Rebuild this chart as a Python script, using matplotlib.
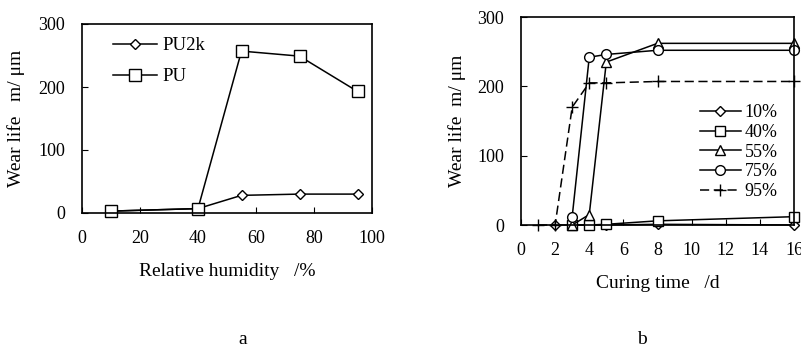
import numpy as np
import matplotlib
matplotlib.use("Agg")
import matplotlib.pyplot as plt

plt.rcParams["font.family"] = ["Liberation Serif", "DejaVu Serif"]
plt.rcParams["font.size"] = 13

# --- panel a: wear life vs relative humidity ---
rh = [10, 40, 55, 75, 95]
pu2k = [3, 7, 28, 30, 30]
pu = [3, 7, 257, 249, 193]

# --- panel b: wear life vs curing time ---
days_10 = [2, 3, 4, 5, 8, 16]
rh10 = [0, 0, 0, 0, 1, 0]
days_40 = [3, 4, 5, 8, 16]
rh40 = [0, 0, 1, 6, 12]
days_55 = [3, 4, 5, 8, 16]
rh55 = [0, 15, 235, 262, 262]
days_75 = [3, 4, 5, 8, 16]
rh75 = [12, 242, 246, 252, 252]
days_95 = [1, 2, 3, 4, 5, 8, 16]
rh95 = [0, 0, 170, 205, 205, 207, 207]

fig = plt.figure(figsize=(8.01, 3.54), dpi=100)
axa = fig.add_axes([82/801, 1-213/354, 290/801, 189/354])
axb = fig.add_axes([521/801, 1-225/354, 273/801, 208/354])

mk = dict(color="k", mfc="white", mec="k", lw=1.1, clip_on=False)
axa.plot(rh, pu2k, marker="D", ms=5.5, label="PU2k", **mk)
axa.plot(rh, pu, marker="s", ms=8, label="PU", **mk)
axa.set_xlim(0, 100); axa.set_ylim(0, 300)
axa.set_xticks(range(0, 101, 20)); axa.set_yticks([0, 100, 200, 300])
axa.set_xlabel("Relative humidity   /%", fontsize=14, labelpad=12)
axa.set_ylabel("Wear life   m/ μm", fontsize=14, labelpad=10)
axa.legend(loc="upper left", frameon=False, fontsize=13.5, handlelength=2.3,
           handletextpad=0.3, labelspacing=0.75, bbox_to_anchor=(0.05, 1.02))

axb.plot(days_10, rh10, marker="D", ms=5.5, label="10%", **mk)
axb.plot(days_40, rh40, marker="s", ms=7, label="40%", **mk)
axb.plot(days_55, rh55, marker="^", ms=7, label="55%", **mk)
axb.plot(days_75, rh75, marker="o", ms=7, label="75%", **mk)
axb.plot(days_95, rh95, marker="+", ms=8, ls=(0, (6, 3)), label="95%", **mk)
axb.set_xlim(0, 16); axb.set_ylim(0, 300)
axb.set_xticks(range(0, 17, 2)); axb.set_yticks([0, 100, 200, 300])
axb.set_xlabel("Curing time   /d", fontsize=14, labelpad=12)
axb.set_ylabel("Wear life  m/ μm", fontsize=14, labelpad=8)
axb.legend(loc="center right", frameon=False, fontsize=13, handlelength=2.3,
           handletextpad=0.2, labelspacing=0.15, bbox_to_anchor=(1.0, 0.35))

for ax in (axa, axb):
    ax.tick_params(direction="in", length=4, width=0.8, labelsize=13, pad=12)
    for s in ax.spines.values():
        s.set_linewidth(1.2)

fig.text(243/801, 1-340/354, "a", ha="center", va="center", fontsize=14)
fig.text(642/801, 1-340/354, "b", ha="center", va="center", fontsize=14)

plt.savefig("out.png", dpi=100)
